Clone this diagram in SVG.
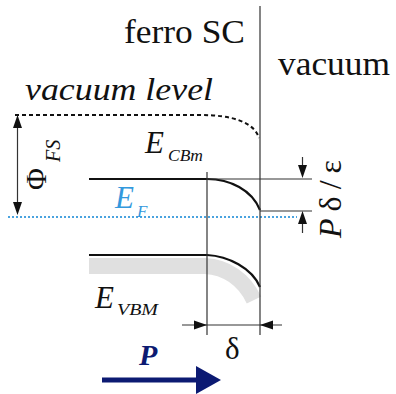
<svg xmlns="http://www.w3.org/2000/svg" width="396" height="394" viewBox="0 0 396 394">
<defs>
<style>
.t{font-family:"Liberation Serif","Times New Roman",serif;fill:#111}
.i{font-style:italic}
.thin{stroke:#333;stroke-width:1.2;fill:none}
.band{stroke:#111;stroke-width:2.2;fill:none}
.blue{fill:#3399dd}
.navy{fill:#0c1a72}
</style>
<polygon id="ah" points="0,0 -13,-4.5 -13,4.5" fill="#111"/>
</defs>
<rect width="396" height="394" fill="#fff"/>

<g id="regions">
<text class="t" x="124" y="43" font-size="33" textLength="121" lengthAdjust="spacingAndGlyphs">ferro SC</text>
<text class="t" x="278" y="75" font-size="33" textLength="112" lengthAdjust="spacingAndGlyphs">vacuum</text>
</g>

<g id="vacuum-level">
<text class="t i" x="25" y="100" font-size="31" textLength="188" lengthAdjust="spacingAndGlyphs">vacuum level</text>
<path d="M15,115 L200,115 C232,115 254,122 259,138" fill="none" stroke="#111" stroke-width="2" stroke-dasharray="4,3"/>
</g>

<g id="valence-band">
<path d="M89,266 L205,266 C226,267 244,279 254,300" fill="none" stroke="#e0e0e0" stroke-width="16"/>
<path class="band" d="M89,255 L207,255 C228,256 252,268 260,287"/>
<text class="t i" x="95" y="308" font-size="31">E</text>
<text class="t i" x="117" y="315" font-size="17" textLength="41" lengthAdjust="spacingAndGlyphs">VBM</text>
</g>

<g id="conduction-band">
<path class="band" d="M89,179 L207,179 C230,179 252,190 260,210"/>
<text class="t i" x="145" y="153" font-size="31">E</text>
<text class="t i" x="168" y="161" font-size="17" textLength="35" lengthAdjust="spacingAndGlyphs">CBm</text>
</g>

<g id="fermi-level">
<line x1="8" y1="217" x2="297" y2="217" stroke="#4aa3df" stroke-width="2" stroke-dasharray="2,2"/>
<text class="t i blue" x="115" y="208" font-size="31">E</text>
<text class="t i blue" x="137" y="217" font-size="17">F</text>
</g>

<g id="connectors">
<line class="thin" x1="260" y1="6" x2="260" y2="335"/>
<line class="thin" x1="207" y1="172" x2="207" y2="335"/>
<line class="thin" x1="207" y1="179" x2="312" y2="179"/>
<line class="thin" x1="260" y1="211" x2="312" y2="211"/>
<line class="thin" x1="302.5" y1="157" x2="302.5" y2="170"/>
<line class="thin" x1="302.5" y1="220" x2="302.5" y2="233"/>
<use href="#ah" transform="translate(302.5,178) rotate(90)"/>
<use href="#ah" transform="translate(302.5,211) rotate(-90)"/>
<line class="thin" x1="182" y1="325" x2="282" y2="325"/>
<use href="#ah" transform="translate(207,325)"/>
<use href="#ah" transform="translate(260,325) rotate(180)"/>
<line class="thin" x1="17.5" y1="125" x2="17.5" y2="205"/>
<use href="#ah" transform="translate(17.5,115) rotate(-90)"/>
<use href="#ah" transform="translate(17.5,215) rotate(90)"/>
</g>

<g id="labels">
<text class="t" transform="translate(46,190) rotate(-90)" font-size="30">Φ</text>
<text class="t i" transform="translate(60,162) rotate(-90)" font-size="20">FS</text>
<text class="t" transform="translate(341,238) rotate(-90)" font-size="32" textLength="78" lengthAdjust="spacing"><tspan class="i">P</tspan>δ/ε</text>
<text class="t" x="225" y="359" font-size="31">δ</text>
</g>

<g id="polarization">
<text class="t i navy" x="139" y="365" font-size="30" font-weight="bold">P</text>
<line x1="102" y1="380" x2="200" y2="380" stroke="#0c1a72" stroke-width="5"/>
<polygon class="navy" points="196,366 221,380 196,394"/>
</g>
</svg>
